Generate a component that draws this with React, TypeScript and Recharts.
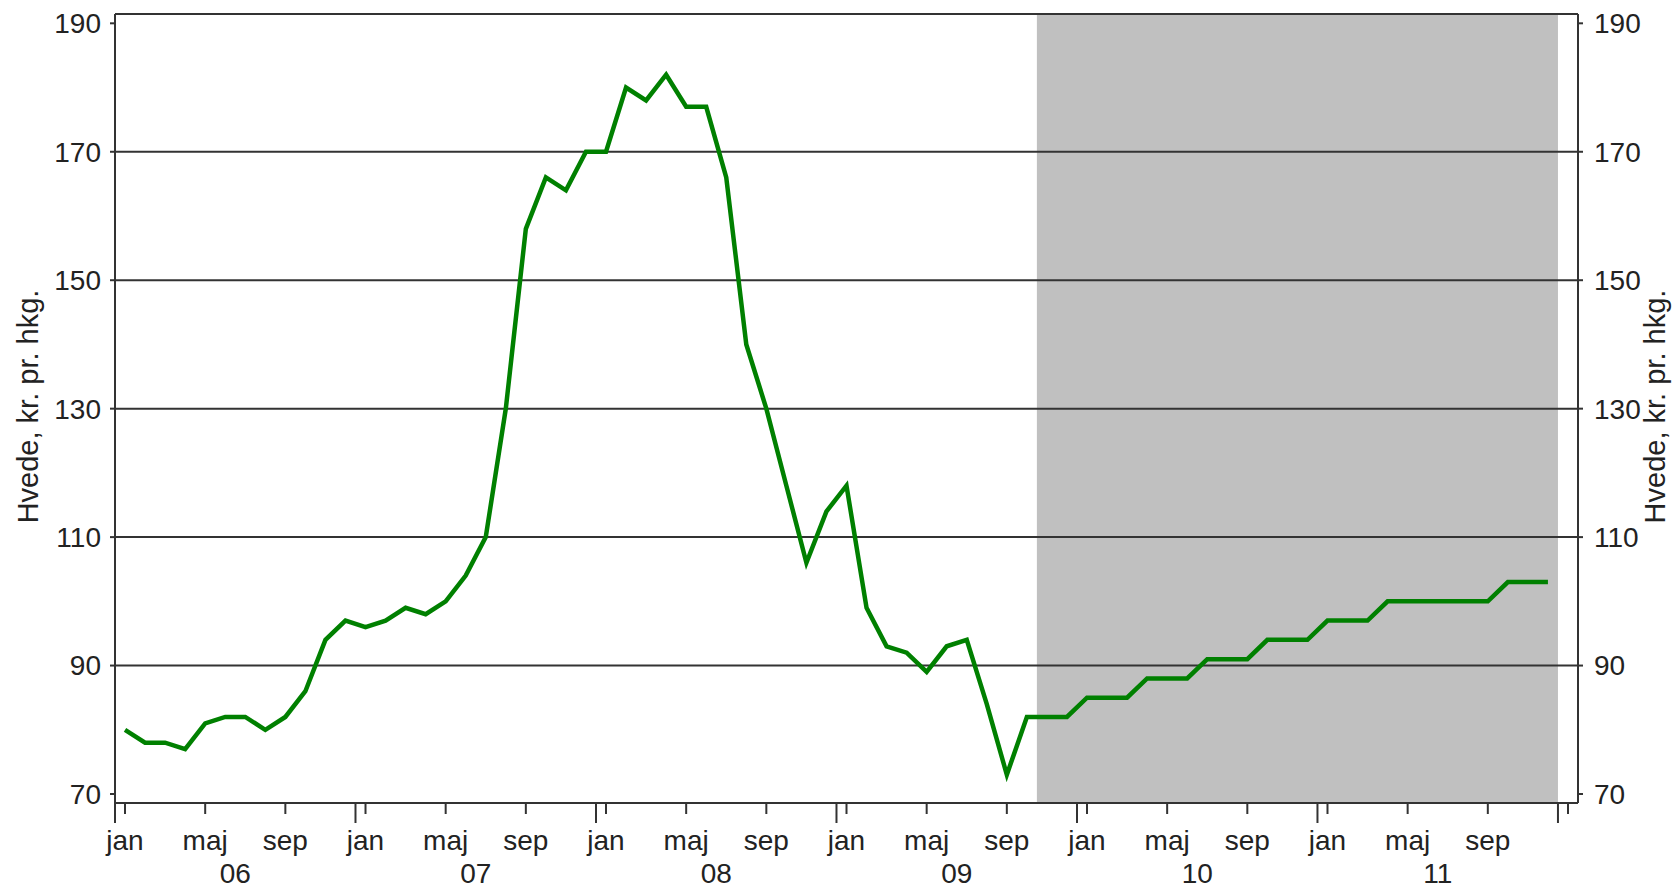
import React from 'react';
import { ComposedChart, Line, XAxis, YAxis, ReferenceLine, ReferenceArea, Label } from 'recharts';

// Hvedepris, kr. pr. hkg., måned for måned 2006-2011
const hvede2006 = [80, 78, 78, 77, 81, 82, 82, 80, 82, 86, 94, 97];
const hvede2007 = [96, 97, 99, 98, 100, 104, 110, 130, 158, 166, 164, 170];
const hvede2008 = [170, 180, 178, 182, 177, 177, 166, 140, 130, 118, 106, 114];
const hvede2009 = [118, 99, 93, 92, 89, 93, 94, 84, 73, 82, 82, 82];
const hvede2010 = [85, 85, 85, 88, 88, 88, 91, 91, 91, 94, 94, 94];
const hvede2011 = [97, 97, 97, 100, 100, 100, 100, 100, 100, 103, 103, 103];

const years = ['06', '07', '08', '09', '10', '11'];
const monthLabels = ['jan', 'maj', 'sep'];
const yTicks = [70, 90, 110, 130, 150, 170, 190];
const gridValues = [90, 110, 130, 150, 170];
const forecastFrom = 46; // nov 09 -> prognose
const forecastTo = 72;
const title = 'Hvede, kr. pr. hkg.';

const prices = [...hvede2006, ...hvede2007, ...hvede2008, ...hvede2009, ...hvede2010, ...hvede2011];
const chartData = prices.map((v, i) => ({ t: i + 0.5, pris: v }));

const xTicks: number[] = [];
years.forEach((_, yi) => {
  xTicks.push(yi * 12);
  monthLabels.forEach((_, mi) => xTicks.push(yi * 12 + mi * 4 + 0.5));
  xTicks.push(yi * 12 + 6);
});
xTicks.push(72, 72.5);

const FONT = '"Liberation Sans", Arial, sans-serif';
const INK = '#222';
const LINE = '#333';

const MonthTick = (props: any) => {
  const { x, y, payload } = props;
  const v: number = payload.value;
  if (v % 12 === 0) {
    return <line x1={x} x2={x} y1={y} y2={y + 20} stroke={LINE} strokeWidth={2} />;
  }
  if (v % 12 === 6) {
    return (
      <text x={x} y={y + 80} textAnchor="middle" fontSize={28} fontFamily={FONT} fill={INK}>
        {years[(v - 6) / 12]}
      </text>
    );
  }
  const m = Math.round(v - 0.5) % 12;
  const label = v < 72 && m % 4 === 0 ? monthLabels[m / 4] : '';
  return (
    <g>
      <line x1={x} x2={x} y1={y} y2={y + 11} stroke={LINE} strokeWidth={2} />
      {label && (
        <text x={x} y={y + 47} textAnchor="middle" fontSize={28} fontFamily={FONT} fill={INK}>
          {label}
        </text>
      )}
    </g>
  );
};

const AxisTitle = (offset: number) => (props: any) => {
  const vb = props.viewBox;
  const bx = vb.x + offset;
  const cy = vb.y + vb.height / 2 - 2;
  return (
    <text
      x={bx}
      y={cy}
      transform={`rotate(-90 ${bx} ${cy})`}
      textAnchor="middle"
      fontSize={29}
      fontFamily={FONT}
      fill={INK}
    >
      {title}
    </text>
  );
};

const tickStyle = { fontSize: 28, fontFamily: FONT, fill: INK };

export default function App() {
  return (
    <div style={{ position: 'absolute', left: 0, top: 0, width: 1672, height: 889, background: '#fff' }}>
      <ComposedChart width={1672} height={889} data={chartData} margin={{ top: 14, right: 0, bottom: 0, left: 0 }}>
        <XAxis
          dataKey="t"
          type="number"
          domain={[0, 73]}
          ticks={xTicks}
          interval={0}
          tick={<MonthTick />}
          tickLine={false}
          tickSize={0}
          tickMargin={0}
          height={86}
          axisLine={{ stroke: LINE, strokeWidth: 2 }}
          allowDataOverflow
        />
        <YAxis
          yAxisId="left"
          domain={[68.6, 191.45]}
          ticks={yTicks}
          interval={0}
          width={115}
          tickSize={5}
          tickMargin={9}
          tick={tickStyle}
          tickLine={{ stroke: LINE, strokeWidth: 2 }}
          axisLine={{ stroke: LINE, strokeWidth: 2 }}
          allowDataOverflow
        >
          <Label content={AxisTitle(38)} />
        </YAxis>
        <YAxis
          yAxisId="right"
          orientation="right"
          domain={[68.6, 191.45]}
          ticks={yTicks}
          interval={0}
          width={94}
          tickSize={5}
          tickMargin={11}
          tick={tickStyle}
          tickLine={{ stroke: LINE, strokeWidth: 2 }}
          axisLine={{ stroke: LINE, strokeWidth: 2 }}
          allowDataOverflow
        >
          <Label content={AxisTitle(87)} />
        </YAxis>
        <ReferenceArea
          yAxisId="left"
          x1={forecastFrom}
          x2={forecastTo}
          fill="#c0c0c0"
          fillOpacity={1}
          stroke="none"
        />
        {gridValues.map((g) => (
          <ReferenceLine key={g} yAxisId="left" y={g} stroke={LINE} strokeWidth={2} />
        ))}
        <ReferenceLine yAxisId="left" y={191.45} stroke={LINE} strokeWidth={2} />
        <Line
          yAxisId="left"
          dataKey="pris"
          type="linear"
          stroke="#008000"
          strokeWidth={4.5}
          dot={false}
          activeDot={false}
          isAnimationActive={false}
        />
      </ComposedChart>
    </div>
  );
}
